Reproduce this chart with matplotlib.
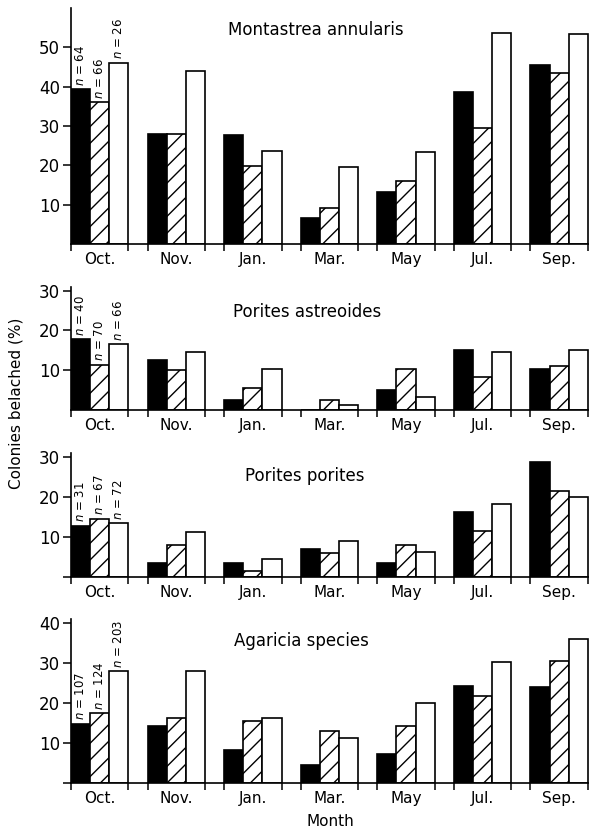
import matplotlib
matplotlib.use('Agg')
import matplotlib.pyplot as plt
import numpy as np

months = ['Oct.', 'Nov.', 'Jan.', 'Mar.', 'May', 'Jul.', 'Sep.']
species = ['Montastrea annularis', 'Porites astreoides', 'Porites porites', 'Agaricia species']

montastrea_black = [39.3, 28.0, 27.8, 6.6, 13.2, 38.6, 45.6]
montastrea_hatched = [36.0, 28.0, 19.9, 9.1, 15.9, 29.6, 43.5]
montastrea_white = [46.1, 44.0, 23.7, 19.5, 23.4, 53.6, 53.4]
montastrea_n = [64, 66, 26]

astreoides_black = [17.7, 12.5, 2.3, 0.0, 4.8, 15.0, 10.1]
astreoides_hatched = [11.3, 9.9, 5.4, 2.3, 10.2, 8.2, 11.1]
astreoides_white = [16.5, 14.4, 10.1, 1.2, 3.2, 14.4, 15.1]
astreoides_n = [40, 70, 66]

porites_black = [12.8, 3.4, 3.5, 6.9, 3.6, 16.3, 28.7]
porites_hatched = [14.6, 7.9, 1.4, 6.0, 8.0, 11.4, 21.4]
porites_white = [13.5, 11.3, 4.5, 8.9, 6.3, 18.2, 20.0]
porites_n = [31, 67, 72]

agaricia_black = [14.8, 14.2, 8.3, 4.6, 7.3, 24.2, 23.9]
agaricia_hatched = [17.5, 16.3, 15.5, 12.9, 14.3, 21.7, 30.4]
agaricia_white = [27.9, 28.1, 16.2, 11.3, 20.0, 30.3, 36.1]
agaricia_n = [107, 124, 203]

yticks = [[10, 20, 30, 40, 50], [10, 20, 30], [0, 10, 20, 30], [0, 10, 20, 30, 40]]
ytop = [60, 31, 31, 41]

panels = [
    (montastrea_black, montastrea_hatched, montastrea_white, montastrea_n),
    (astreoides_black, astreoides_hatched, astreoides_white, astreoides_n),
    (porites_black, porites_hatched, porites_white, porites_n),
    (agaricia_black, agaricia_hatched, agaricia_white, agaricia_n),
]

W, H = 589, 835
fig = plt.figure(figsize=(W / 100, H / 100), dpi=100)
plt.rcParams['hatch.linewidth'] = 1.0

# axes rectangles in pixels: (baseline_y, top_y)
rects = [(244, 8), (409.5, 286.7), (577, 453), (783, 619)]
title_x = [0.473, 0.456, 0.452, 0.444]
title_y = [0.907, 0.794, 0.815, 0.866]

left_px = 71
fs = 11
for i, ((blk, hat, wht, nn), (by, ty)) in enumerate(zip(panels, rects)):
    ax = fig.add_axes([left_px / W, 1 - by / H, (W - left_px) / W, (by - ty) / H])
    centers = np.arange(len(months)) * 4.0
    kw = dict(width=1.0, edgecolor='black', linewidth=1.2)
    b1 = ax.bar(centers - 1, blk, color='black', **kw)
    b2 = ax.bar(centers, hat, color='white', hatch='//', **kw)
    b3 = ax.bar(centers + 1, wht, color='white', **kw)
    ax.set_xlim(-1.5, 25.56)
    ax.set_ylim(0, ytop[i])
    for s in ['top', 'right']:
        ax.spines[s].set_visible(False)
    for s in ['left', 'bottom']:
        ax.spines[s].set_linewidth(1.2)
    ax.set_yticks(yticks[i])
    ax.set_yticklabels(['' if v == 0 else str(v) for v in yticks[i]], fontsize=12)
    ax.tick_params(axis='y', direction='out', length=6, width=1.1, pad=2)
    ax.set_xticks(centers)
    ax.set_xticklabels(months, fontsize=fs)
    ax.tick_params(axis='x', which='major', length=0, pad=6)
    ax.set_xticks(np.concatenate([centers - 1.5, centers + 1.5]), minor=True)
    ax.tick_params(axis='x', which='minor', direction='out', length=5, width=1.1)
    ax.text(title_x[i], title_y[i], species[i], transform=ax.transAxes,
            ha='center', va='center', fontsize=12)
    # n labels over the October bars
    for bars, n in zip([b1, b2, b3], nn):
        r = bars[0]
        ax.annotate('$n$ = %d' % n, xy=(r.get_x() + r.get_width() / 2, r.get_height()),
                    xytext=(0, 2.5), textcoords='offset points', rotation=90,
                    ha='center', va='bottom', fontsize=8.5, annotation_clip=False)

fig.text(16 / W, 1 - 403 / H, 'Colonies belached (%)', rotation=90, ha='center', va='center', fontsize=fs)
fig.text(330 / W, 1 - 822 / H, 'Month', ha='center', va='center', fontsize=fs)

fig.savefig('out.png', dpi=100)
